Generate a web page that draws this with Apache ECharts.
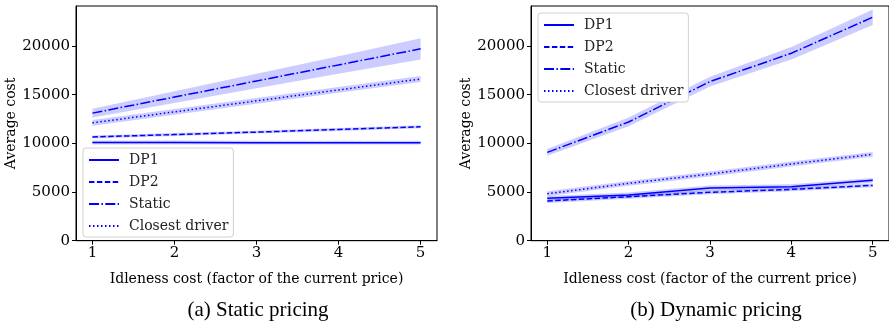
<!DOCTYPE html>
<html>
<head>
<meta charset="utf-8">
<script src="https://cdn.jsdelivr.net/npm/echarts@6/dist/echarts.min.js"></script>
<style>
html, body { margin: 0; padding: 0; background: #fff; }
#main { width: 889px; height: 326px; }
</style>
</head>
<body>
<div id="main"></div>
<script>
// idleness cost factor
var xs = [1, 2, 3, 4, 5];
var xTicks = [1, 2, 3, 4, 5];
var yTicks = [0, 5000, 10000, 15000, 20000];
var names = ['DP1', 'DP2', 'Static', 'Closest driver'];

// (a) static pricing: means and half-widths of the shaded band
var dp1A = [10080, 10080, 10070, 10070, 10070];
var dp1A_hw = [200, 200, 200, 200, 200];
var dp2A = [10650, 10900, 11150, 11420, 11700];
var dp2A_hw = [150, 150, 150, 150, 150];
var staticA = [13100, 14750, 16400, 18050, 19700];
var staticA_hw = [450, 600, 750, 900, 1100];
var closestA = [12100, 13230, 14360, 15480, 16600];
var closestA_hw = [300, 300, 300, 300, 300];

// (b) dynamic pricing
var dp1B = [4350, 4690, 5410, 5550, 6200];
var dp1B_hw = [250, 250, 250, 250, 250];
var dp2B = [4080, 4520, 4970, 5270, 5680];
var dp2B_hw = [200, 200, 200, 200, 200];
var staticB = [9070, 12190, 16340, 19250, 22950];
var staticB_hw = [350, 450, 500, 650, 800];
var closestB = [4820, 5890, 6850, 7880, 8870];
var closestB_hw = [250, 250, 250, 250, 250];

var blue = '#0000ff';
var serif = 'DejaVu Serif';
var styles = {
    'DP1': 'solid',
    'DP2': [5.5, 2.4],
    'Static': [10, 2.4, 1.5, 2.4],
    'Closest driver': [1.5, 2.5]
};

function band(mean, hw, idx) {
    return {
        type: 'custom',
        xAxisIndex: idx, yAxisIndex: idx,
        silent: true,
        z: 1,
        data: xs.map(function (x, i) { return [x, mean[i] - hw[i], mean[i] + hw[i]]; }),
        encode: { x: 0, y: [1, 2] },
        renderItem: function (params, api) {
            if (params.dataIndex !== 0) return;
            var pts = [];
            for (var i = 0; i < xs.length; i++) pts.push(api.coord([xs[i], mean[i] + hw[i]]));
            for (var j = xs.length - 1; j >= 0; j--) pts.push(api.coord([xs[j], mean[j] - hw[j]]));
            return { type: 'polygon', shape: { points: pts }, style: { fill: 'rgba(0,0,255,0.2)', stroke: null } };
        }
    };
}

function line(name, mean, idx) {
    return {
        name: name,
        type: 'line',
        xAxisIndex: idx, yAxisIndex: idx,
        data: xs.map(function (x, i) { return [x, mean[i]]; }),
        symbol: 'none',
        z: 3,
        lineStyle: { color: blue, width: 1.5, type: styles[name] },
        itemStyle: { color: blue }
    };
}

function xAxis(idx) {
    return {
        type: 'value', gridIndex: idx, min: 0.8, max: 5.2,
        name: 'Idleness cost (factor of the current price)',
        nameLocation: 'middle', nameGap: 32,
        nameTextStyle: { fontFamily: serif, fontSize: 14, color: '#000' },
        axisLine: { lineStyle: { color: '#000', width: 1 } },
        axisTick: { show: true, length: 4, customValues: xTicks, lineStyle: { color: '#000' } },
        axisLabel: { customValues: xTicks, fontFamily: serif, fontSize: 15, color: '#000', margin: 5 },
        splitLine: { show: false }
    };
}

function yAxis(idx) {
    return {
        type: 'value', gridIndex: idx, min: 0, max: 24100,
        name: 'Average cost',
        nameLocation: 'middle', nameGap: 55,
        nameTextStyle: { fontFamily: serif, fontSize: 14, color: '#000' },
        axisLine: { show: true, lineStyle: { color: '#000', width: 1 } },
        axisTick: { show: true, length: 4, customValues: yTicks, lineStyle: { color: '#000' } },
        axisLabel: { customValues: yTicks, fontFamily: serif, fontSize: 15, color: '#000', margin: 6,
            formatter: function (v) { return String(v); } },
        splitLine: { show: false }
    };
}

function legend(left, top) {
    return {
        data: names,
        orient: 'vertical',
        left: left, top: top,
        itemWidth: 30, itemHeight: 10, itemGap: 8,
        padding: [5, 5, 4, 5],
        backgroundColor: '#fff',
        borderColor: '#d0d0d0', borderWidth: 1, borderRadius: 3,
        itemStyle: { opacity: 0 },
        textStyle: { fontFamily: serif, fontSize: 14, color: '#222', padding: [0, 0, 0, 5] },
        selectedMode: false
    };
}

var chart = echarts.init(document.getElementById('main'));
var option = {
    animation: false,
    backgroundColor: '#fff',
    grid: [
        { left: 76, top: 6, width: 361, height: 234.7, show: true, borderColor: '#000', borderWidth: 1 },
        { left: 531, top: 6, width: 361, height: 234.7, show: true, borderColor: '#000', borderWidth: 1 }
    ],
    xAxis: [xAxis(0), xAxis(1)],
    yAxis: [yAxis(0), yAxis(1)],
    legend: [legend(83, 148), legend(538, 13)],
    graphic: [
        { type: 'text', x: 258, y: 300, style: { text: '(a) Static pricing', fontFamily: 'Liberation Serif', fontSize: 21, fill: '#000', align: 'center', textAlign: 'center' } },
        { type: 'text', x: 716, y: 300, style: { text: '(b) Dynamic pricing', fontFamily: 'Liberation Serif', fontSize: 21, fill: '#000', align: 'center', textAlign: 'center' } }
    ],
    series: [
        band(dp1A, dp1A_hw, 0), band(dp2A, dp2A_hw, 0), band(staticA, staticA_hw, 0), band(closestA, closestA_hw, 0),
        line('DP1', dp1A, 0), line('DP2', dp2A, 0), line('Static', staticA, 0), line('Closest driver', closestA, 0),
        band(dp1B, dp1B_hw, 1), band(dp2B, dp2B_hw, 1), band(staticB, staticB_hw, 1), band(closestB, closestB_hw, 1),
        line('DP1', dp1B, 1), line('DP2', dp2B, 1), line('Static', staticB, 1), line('Closest driver', closestB, 1)
    ]
};
chart.setOption(option);
</script>
</body>
</html>
